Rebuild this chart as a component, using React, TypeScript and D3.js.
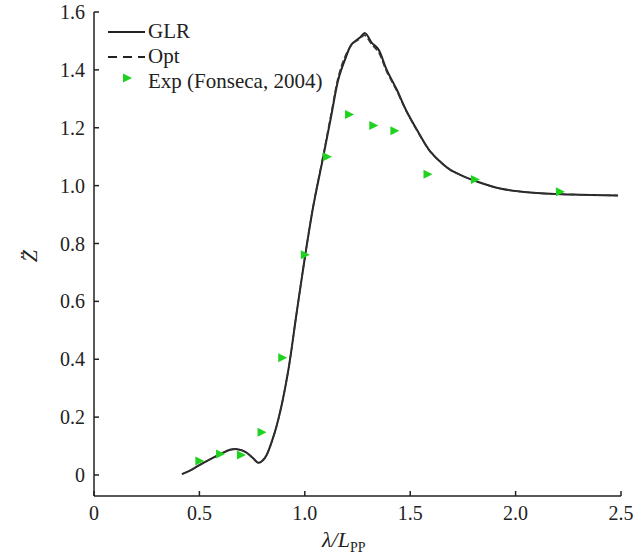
import React from "react";
import * as d3 from "d3";

const glrX = [0.417,0.46,0.5,0.55,0.6,0.645,0.68,0.72,0.755,0.78,0.81,0.85,0.882,0.922,0.961,1.001,1.04,1.088,1.128,1.159,1.191,1.222,1.262,1.286,1.317,1.349,1.388,1.436,1.483,1.531,1.594,1.641,1.689,1.75,1.817,1.926,2.07,2.27,2.486];
const glrY = [0.003,0.017,0.034,0.054,0.072,0.087,0.089,0.079,0.058,0.042,0.058,0.13,0.215,0.363,0.559,0.755,0.928,1.101,1.251,1.367,1.436,1.488,1.512,1.527,1.494,1.471,1.401,1.332,1.257,1.194,1.119,1.084,1.055,1.033,1.014,0.99,0.976,0.969,0.966];

const optX = [0.417,0.46,0.5,0.55,0.6,0.645,0.68,0.72,0.755,0.78,0.81,0.85,0.882,0.922,0.961,1.001,1.04,1.088,1.128,1.159,1.191,1.222,1.262,1.283,1.317,1.349,1.388,1.436,1.483,1.531,1.594,1.641,1.689,1.75,1.817,1.926,2.07,2.27,2.486];
const optY = [0.003,0.017,0.034,0.054,0.072,0.087,0.089,0.079,0.058,0.042,0.058,0.13,0.215,0.363,0.559,0.755,0.93,1.107,1.26,1.376,1.446,1.486,1.508,1.52,1.488,1.462,1.395,1.328,1.255,1.192,1.118,1.083,1.055,1.033,1.014,0.99,0.976,0.969,0.966];

const expX = [0.5,0.598,0.697,0.795,0.893,1.0,1.105,1.21,1.325,1.425,1.582,1.807,2.21];
const expY = [0.048,0.073,0.069,0.148,0.405,0.761,1.10,1.246,1.208,1.19,1.039,1.021,0.979];

const xTicks = [0, 0.5, 1.0, 1.5, 2.0, 2.5];
const xTickLabels = ["0", "0.5", "1.0", "1.5", "2.0", "2.5"];
const yTicks = [0, 0.2, 0.4, 0.6, 0.8, 1.0, 1.2, 1.4, 1.6];
const yTickLabels = ["0", "0.2", "0.4", "0.6", "0.8", "1.0", "1.2", "1.4", "1.6"];

const legendLabels = ["GLR", "Opt", "Exp (Fonseca, 2004)"];

const FONT = "'Liberation Serif', 'Times New Roman', serif";
const GREEN = "#1fd21f";

export default function App() {
  const x = d3.scaleLinear().domain([0, 2.5]).range([94, 621]);
  const y = d3.scaleLinear().domain([0, 1.6]).range([475, 12]);
  const yBottom = 496;

  const line = d3
    .line<[number, number]>()
    .x((d) => x(d[0]))
    .y((d) => y(d[1]))
    .curve(d3.curveCatmullRom.alpha(0.5));

  const glr: [number, number][] = glrX.map((v, i) => [v, glrY[i]]);
  const opt: [number, number][] = optX.map((v, i) => [v, optY[i]]);
  const exp: [number, number][] = expX.map((v, i) => [v, expY[i]]);

  const tri = "M-4,-4.5 L-4,4.5 L5,0 Z";

  return (
    <svg
      width={641}
      height={560}
      style={{ position: "absolute", left: 0, top: 0, background: "#fff" }}
      fontFamily={FONT}
    >
      <rect x={0} y={0} width={641} height={560} fill="#fff" />
      {/* axes */}
      <line x1={x(0)} x2={x(0)} y1={y(1.6)} y2={yBottom} stroke="#222" strokeWidth={1.5} />
      <line x1={x(0)} x2={x(2.5)} y1={yBottom} y2={yBottom} stroke="#222" strokeWidth={1.5} />
      {yTicks.map((t, i) => (
        <g key={"yt" + i}>
          <line x1={x(0)} x2={x(0) + 5} y1={y(t)} y2={y(t)} stroke="#222" strokeWidth={1.5} />
          <text x={85} y={y(t)} dy="0.35em" textAnchor="end" fontSize={20} fill="#222">
            {yTickLabels[i]}
          </text>
        </g>
      ))}
      {xTicks.map((t, i) => (
        <g key={"xt" + i}>
          <line x1={x(t)} x2={x(t)} y1={yBottom} y2={yBottom - 5} stroke="#222" strokeWidth={1.5} />
          <text x={x(t)} y={520} textAnchor="middle" fontSize={20} fill="#222">
            {xTickLabels[i]}
          </text>
        </g>
      ))}
      {/* axis labels */}
      <g transform="translate(37,256) rotate(-90)">
        <text x={0} y={0} textAnchor="middle" fontSize={22} fontStyle="italic" fill="#222">
          Z
        </text>
        <text x={1} y={-3} textAnchor="middle" fontSize={22} fill="#222">
          {"\u00A8"}
        </text>
      </g>
      <text x={322} y={547} fontSize={22} fontStyle="italic" fill="#222">
        λ/L
        <tspan fontStyle="normal" fontSize={14} dy={5}>
          PP
        </tspan>
      </text>

      {/* curves */}
      <path d={line(glr) || ""} fill="none" stroke="#222" strokeWidth={2} />
      <path d={line(opt) || ""} fill="none" stroke="#333" strokeWidth={1.6} strokeDasharray="6,3" />
      {exp.map((d, i) => (
        <path key={"e" + i} d={tri} transform={`translate(${x(d[0])},${y(d[1])})`} fill={GREEN} />
      ))}

      {/* legend */}
      <line x1={108} x2={145} y1={32} y2={32} stroke="#222" strokeWidth={2} />
      <text x={148} y={38} fontSize={21} fill="#222">{legendLabels[0]}</text>
      <line x1={108} x2={145} y1={57} y2={57} stroke="#222" strokeWidth={2} strokeDasharray="9,6" />
      <text x={148} y={63} fontSize={21} fill="#222">{legendLabels[1]}</text>
      <path d={tri} transform="translate(127,78)" fill={GREEN} />
      <text x={148} y={88} fontSize={21} fill="#222">{legendLabels[2]}</text>
    </svg>
  );
}
